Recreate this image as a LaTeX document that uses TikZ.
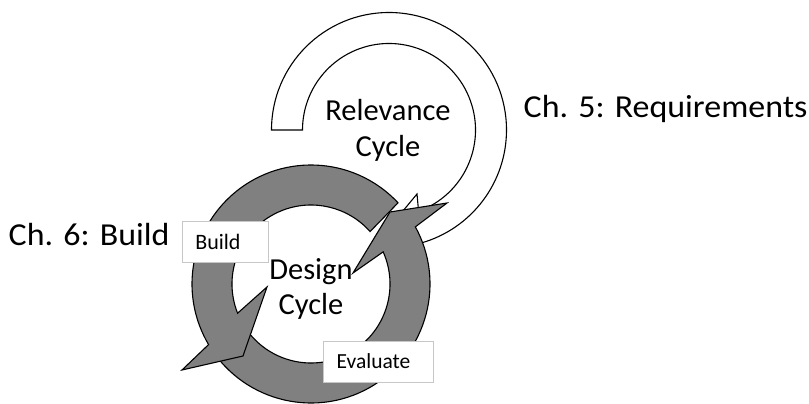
\documentclass[tikz,border=0pt]{standalone}
\usepackage{fontspec}
\usepackage{graphicx}
\setmainfont{Carlito}
\usetikzlibrary{calc}
\begin{document}
\begin{tikzpicture}[x=1pt,y=1pt,
  ringline/.style={draw=black, line width=1.1pt, line join=miter},
  grayarrow/.style={ringline, fill=gray},
  whitearrow/.style={ringline, fill=white},
  tagbox/.style={draw=black!22, line width=0.8pt, fill=white, anchor=south west, align=left, inner ysep=0pt, font=\fontsize{22}{26}\selectfont},
  cyclelabel/.style={anchor=base, inner sep=0pt, font=\fontsize{30.5}{35.5}\selectfont},
  chapter/.style={anchor=base west, inner sep=0pt, font=\fontsize{32}{38}\selectfont}
]
\useasboundingbox (0,0) rectangle (809,404);
\coordinate (R) at (389,274);
\coordinate (D) at (311,120);
% relevance cycle (white arrow)
\coordinate (wob) at (423,145.4);
\coordinate (wt) at (385.5,172);
\coordinate (wib) at (417,210);
\draw[whitearrow] ($(R)+(180:117.5)$) arc[start angle=180, end angle=-74, radius=117.5]
  -- (wob) -- (wt) -- (wib) -- ($(R)+(-70:86.5)$) arc[start angle=-70, end angle=180, radius=86.5] -- cycle;
% design cycle: evaluate arrow
\coordinate (eob) at (447,201);
\coordinate (et) at (390,192);
\coordinate (eib) at (353,131);
\draw[grayarrow] ($(D)+(212:119)$) arc[start angle=212, end angle=388.7, radius=119]
  -- (eob) -- (et) -- (eib) -- ($(D)+(384:79)$) arc[start angle=384, end angle=212, radius=79] -- cycle;
% design cycle: build arrow
\coordinate (bob) at (182,34);
\coordinate (bt) at (243,48);
\coordinate (bib) at (267,117);
\draw[grayarrow] ($(D)+(43:119)$) arc[start angle=43, end angle=210.6, radius=119]
  -- (bob) -- (bt) -- (bib) -- ($(D)+(201.7:79)$) arc[start angle=201.7, end angle=41.6, radius=79] -- cycle;
% boxes
\node[tagbox, minimum width=86, minimum height=41, inner xsep=13, text width=60, text height=14.4, text depth=0] (build) at (182,141) {Build};
\node[tagbox, font=\fontsize{21.5}{26}\selectfont, minimum width=110, minimum height=41, inner xsep=13.3, text width=83.4, text height=13.6, text depth=0] (evaluate) at (323,21) {Evaluate};
% labels
\node[cyclelabel] (relevance) at (388,283) {\begin{tabular}[t]{@{}c@{}}Relevance\\Cycle\end{tabular}};
\node[cyclelabel] (design) at (311,124.7) {\begin{tabular}[t]{@{}c@{}}Design\\Cycle\end{tabular}};
\node[chapter] (ch5) at (523.5,286.7) {\scalebox{1.06}[1]{Ch. 5: Requirements}};
\node[chapter] (ch6) at (8.5,158.7) {\scalebox{1.06}[1]{Ch. 6: Build}};
\end{tikzpicture}
\end{document}
